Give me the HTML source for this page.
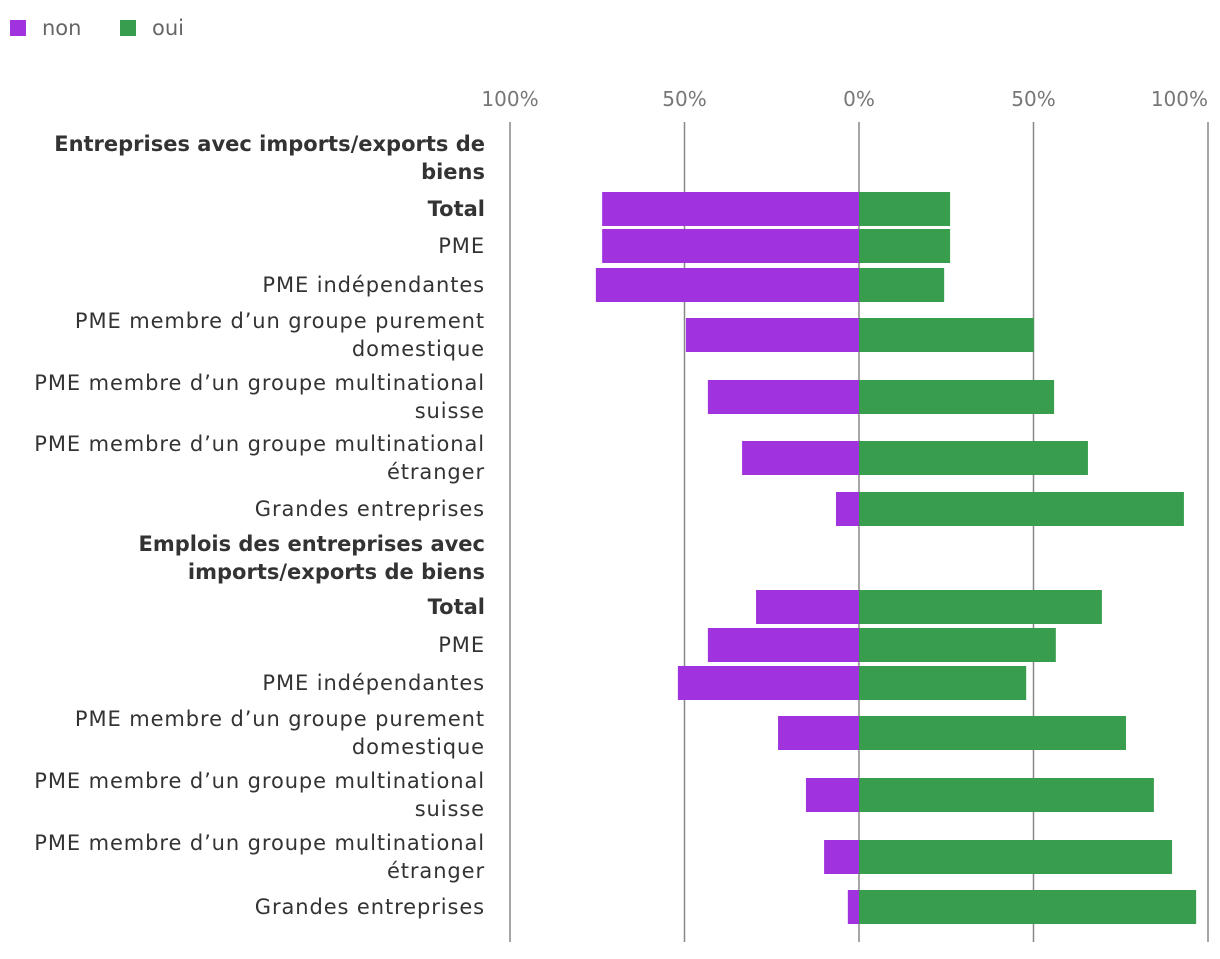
<!DOCTYPE html>
<html><head><meta charset="utf-8">
<style>
body{margin:0;background:#fff;}
svg text{font-family:"DejaVu Sans","Liberation Sans",sans-serif;}
</style></head>
<body>
<svg id="chart" width="1220" height="954" xmlns="http://www.w3.org/2000/svg">
<g>
<rect x="10" y="20" width="16" height="16" fill="#a133df"/>
<text x="42" y="35" font-size="21" fill="#666">non</text>
<rect x="120" y="20" width="16" height="16" fill="#389e4e"/>
<text x="152" y="35" font-size="21" fill="#666">oui</text>
</g>
<g id="grid"></g>
<g id="bars"></g>
<g id="labels"></g>
</svg>
<script>
const tickValues=[-100,-50,0,50,100];
const tickLabels=["100%","50%","0%","50%","100%"];
const categories=["Total","PME","PME indépendantes","PME membre d’un groupe purement|domestique","PME membre d’un groupe multinational|suisse","PME membre d’un groupe multinational|étranger","Grandes entreprises"];
const groupTitles=["Entreprises avec imports/exports de|biens","Emplois des entreprises avec|imports/exports de biens"];
const nonG1=[73.6,73.6,75.4,49.6,43.3,33.5,6.6];
const ouiG1=[26.1,26.1,24.4,50.1,55.9,65.6,93.1];
const nonG2=[29.5,43.3,51.9,23.2,15.2,10,3.2];
const ouiG2=[69.6,56.4,47.9,76.5,84.5,89.7,96.6];

const NS="http://www.w3.org/2000/svg";
const x0=859,x100=1208;
function x(v){return x0+(x100-x0)*v/100;}
function mk(t,a,p){const e=document.createElementNS(NS,t);for(const k in a)e.setAttribute(k,a[k]);p.appendChild(e);return e;}
const grid=document.getElementById('grid'),bars=document.getElementById('bars'),labels=document.getElementById('labels');
tickValues.forEach((v,i)=>{
 const l=mk('line',{x1:x(v),x2:x(v),y1:122,y2:942,stroke:'#888','stroke-width':1.5},grid);
 
 
 const last=i===tickValues.length-1;
 const t=mk('text',{x:last?x(v):x(v),y:106,'text-anchor':last?'end':'middle','font-size':20,fill:'#777'},grid);
 
 
 t.textContent=tickLabels[i];
});
const rowY=[[209,246,285,335,397,458,509],[607,645,683,733,795,857,907]];
const titleY=[158,558];
const data=[[nonG1,ouiG1],[nonG2,ouiG2]];
function label(txt,cy,bold){
 const parts=txt.split('|');
 parts.forEach((p,i)=>{
  const y=cy+7+(i-(parts.length-1)/2)*28;
  const a={x:485,y:y,'text-anchor':'end','font-size':21,'font-weight':bold?'bold':'normal',fill:'#333'};
  if(!bold)a['letter-spacing']=0.9;
  const t=mk('text',a,labels);
  
  
  t.textContent=p;
 });
}
groupTitles.forEach((g,gi)=>{
 label(g,titleY[gi],true);
 categories.forEach((c,ci)=>{
  const cy=rowY[gi][ci];
  label(c,cy,ci===0);
  const nv=data[gi][0][ci],ov=data[gi][1][ci];
  const r1=mk('rect',{x:x(-nv),y:cy-17,width:x(0)-x(-nv),height:34,fill:'#a133df'},bars);
  
  
  const r2=mk('rect',{x:x(0),y:cy-17,width:x(ov)-x(0),height:34,fill:'#389e4e'},bars);
  
  
 });
});
</script>
</body></html>
